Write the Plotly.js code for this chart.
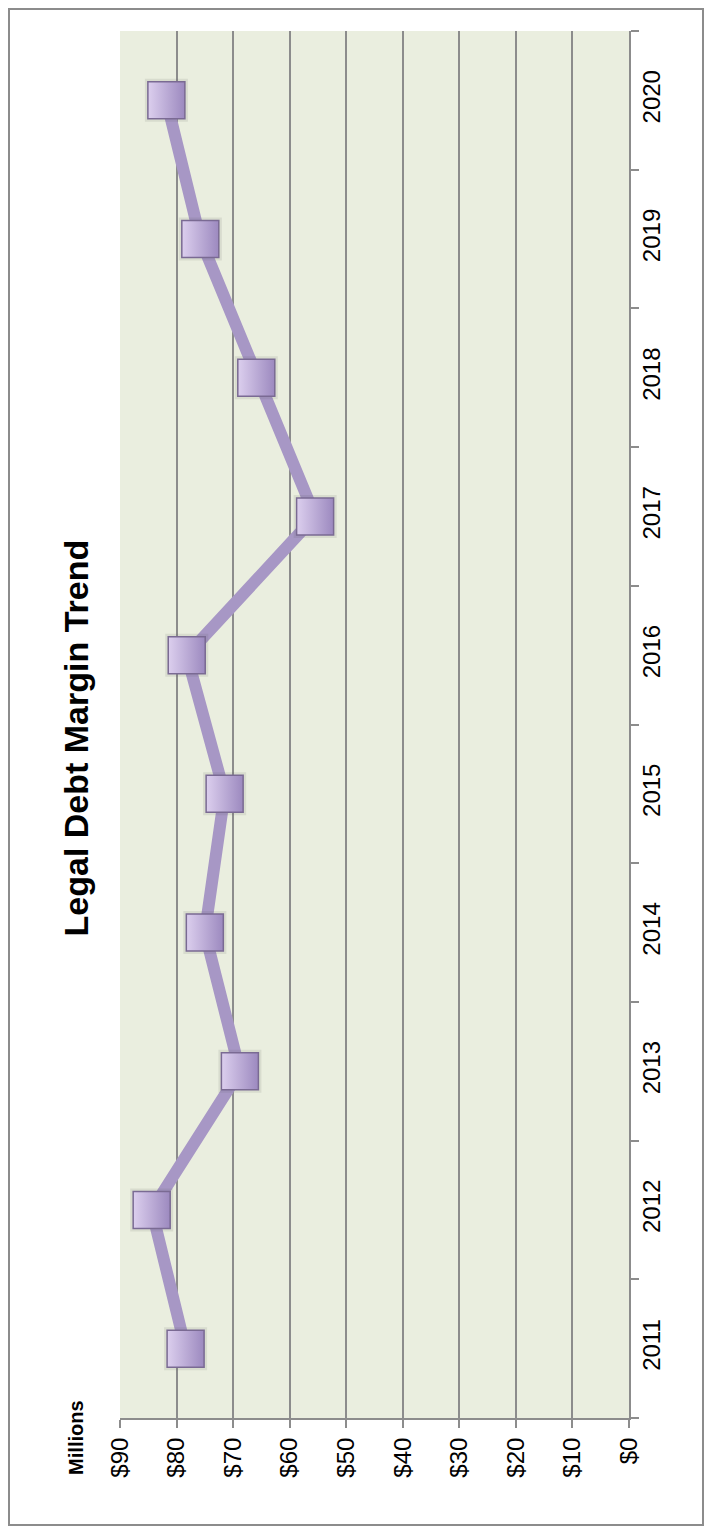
<!DOCTYPE html>
<html><head><meta charset="utf-8">
<script src="https://cdn.plot.ly/plotly-3.0.1.min.js"></script>
<style>
html,body{margin:0;padding:0;background:#fff;}
#chart{position:absolute;left:0;top:0;width:711px;height:1536px;}
#frame{position:absolute;left:8px;top:8px;width:696px;height:1518px;box-sizing:border-box;border:2px solid #8c8c8c;pointer-events:none;}
</style></head>
<body>
<div id="chart"></div>
<div id="frame"></div>
<script>
const years = ['2011','2012','2013','2014','2015','2016','2017','2018','2019','2020'];
const margins = [78.4, 84.4, 68.8, 75.0, 71.5, 78.2, 55.5, 65.9, 75.8, 81.8];
const valueTicks = [0,10,20,30,40,50,60,70,80,90];
const valueTickText = valueTicks.map(v => '$' + v);
const chartTitle = 'Legal Debt Margin Trend';
const unitLabel = 'Millions';

const FONT = 'Arial, "Liberation Sans", sans-serif';

const traces = [
  {
    x: margins, y: years, type: 'scatter', mode: 'lines',
    line: {color: '#a797c5', width: 12},
    hoverinfo: 'skip', showlegend: false
  },
  {
    x: margins, y: years, type: 'scatter', mode: 'markers',
    marker: {symbol: 'square', size: 43, color: 'rgba(90,90,90,0.12)', line: {width: 0}},
    hoverinfo: 'skip', showlegend: false
  },
  {
    x: margins, y: years, type: 'scatter', mode: 'markers',
    marker: {symbol: 'square', size: 37, color: '#dccfee',
             gradient: {type: 'horizontal', color: '#9c89bf'},
             line: {color: '#7a6a93', width: 1.5}},
    showlegend: false
  }
];

const layout = {
  width: 711, height: 1536,
  margin: {l: 120, r: 82, t: 31, b: 118},
  paper_bgcolor: '#ffffff',
  plot_bgcolor: '#eaeedf',
  font: {family: FONT, color: '#000', size: 24},
  showlegend: false,
  xaxis: {
    range: [90, 0],
    tickmode: 'array', tickvals: valueTicks, ticktext: valueTickText,
    tickangle: -90,
    ticks: 'outside', ticklen: 8, tickwidth: 2, tickcolor: '#8c8c8c',
    showline: true, linecolor: '#8c8c8c', linewidth: 2,
    showgrid: true, gridcolor: '#8c8c8c', gridwidth: 2,
    zeroline: false,
    tickfont: {family: FONT, size: 24, color: '#000'},
    fixedrange: true
  },
  yaxis: {
    type: 'category', side: 'right',
    range: [-0.5, 9.5],
    tickangle: -90,
    tickson: 'boundaries',
    ticks: 'outside', ticklen: 8, tickwidth: 2, tickcolor: '#8c8c8c',
    showline: true, linecolor: '#8c8c8c', linewidth: 2,
    showgrid: false, zeroline: false,
    tickfont: {family: FONT, size: 24, color: '#000'},
    fixedrange: true
  },
  annotations: [
    {text: '<b>' + chartTitle + '</b>', xref: 'paper', yref: 'paper',
     x: -0.045, y: 0.49, xanchor: 'right', yanchor: 'middle',
     textangle: -90, showarrow: false,
     font: {family: FONT, size: 34, color: '#000'}},
    {text: '<b>' + unitLabel + '</b>', xref: 'paper', yref: 'paper',
     x: -0.06, y: -0.014, xanchor: 'right', yanchor: 'middle',
     textangle: -90, showarrow: false,
     font: {family: FONT, size: 20, color: '#000'}}
  ]
};

Plotly.newPlot('chart', traces, layout, {displayModeBar: false, staticPlot: true});
</script>
</body></html>
